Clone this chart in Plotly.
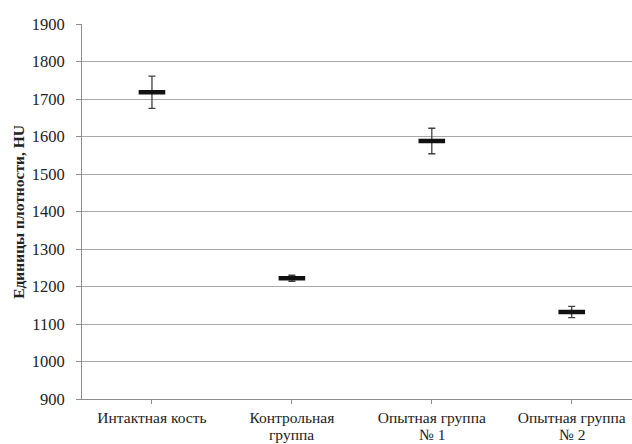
import plotly.graph_objects as go

categories = ["Интактная кость", "Контрольная", "Опытная группа", "Опытная группа"]
categories_line2 = ["", "группа", "№ 1", "№ 2"]
means = [1718, 1222, 1588, 1132]
errors = [43, 8, 34, 15]
y_ticks = list(range(900, 2000, 100))

W, H = 632, 444
ml, mt, mb = 81.7, 24, 45
pw = W - ml
ph = H - mt - mb
band = 140

FAM = "Liberation Serif"
TXT = "#222222"

fig = go.Figure()
fig.add_trace(go.Scatter(
    x=list(range(len(categories))), y=means,
    mode="markers",
    marker=dict(symbol="line-ew", size=19, line=dict(width=4.5, color="#111111"), color="#111111"),
    error_y=dict(type="data", array=errors, visible=True, color="#404040", thickness=1.3, width=3.5),
    showlegend=False,
))

annotations = [dict(
    text="<b>Единицы плотности, HU</b>", textangle=-90,
    xref="paper", yref="paper", x=(18 - ml) / pw, y=0.5,
    xanchor="center", yanchor="middle", showarrow=False,
    font=dict(family=FAM, size=15.5, color=TXT),
)]
for i, t in enumerate(categories_line2):
    if t:
        annotations.append(dict(
            text=t, xref="x", yref="paper", x=i, y=(399 - 434.5) / ph,
            xanchor="center", yanchor="middle", showarrow=False,
            font=dict(family=FAM, size=15.5, color=TXT),
        ))

fig.update_layout(
    width=W, height=H,
    margin=dict(l=ml, r=0, t=mt, b=mb, pad=0, autoexpand=False),
    plot_bgcolor="white", paper_bgcolor="white",
    font=dict(family=FAM, size=16, color=TXT),
    xaxis=dict(
        tickmode="array", tickvals=list(range(len(categories))), ticktext=categories,
        range=[-0.5, -0.5 + pw / band], automargin=False,
        showgrid=False, showline=True, linecolor="#8c8c8c", linewidth=1,
        ticks="outside", ticklen=4, tickcolor="#8c8c8c",
        tickson="boundaries", zeroline=False, ticklabelstandoff=0,
        tickfont=dict(family=FAM, size=15.5, color=TXT),
    ),
    yaxis=dict(
        range=[900, 1900], tickvals=y_ticks, automargin=False,
        showgrid=True, gridcolor="#a8a8a8", gridwidth=1.3,
        showline=True, linecolor="#8c8c8c", linewidth=1,
        ticks="outside", ticklen=5, tickcolor="#8c8c8c",
        zeroline=False, ticklabelstandoff=8,
        tickfont=dict(family=FAM, size=16.5, color=TXT),
    ),
    annotations=annotations,
)
fig.write_html(
    "out.html",
    config={"displayModeBar": False},
    post_script="document.body.style.margin='0';document.body.style.overflow='hidden';",
)
